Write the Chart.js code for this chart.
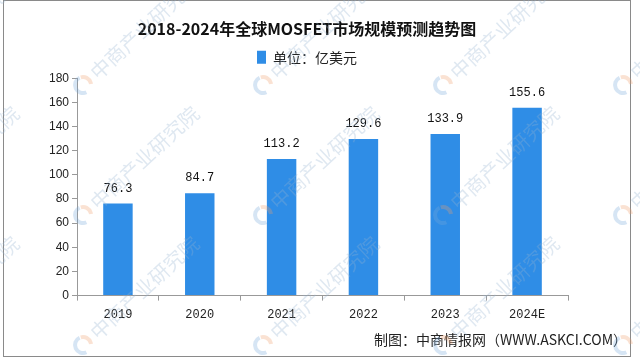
<!DOCTYPE html>
<html>
<head>
<meta charset="utf-8">
<script src="https://cdn.jsdelivr.net/npm/chart.js@4"></script>
<style>
  html, body { margin: 0; padding: 0; background: #fff; }
  #wrap { width: 640px; height: 358px; }
</style>
</head>
<body>
<div id="wrap"><canvas id="chartMosfet" width="640" height="358"></canvas></div>
<script>
// chart data
const years = ['2019', '2020', '2021', '2022', '2023', '2024E'];
const marketSize = [76.3, 84.7, 113.2, 129.6, 133.9, 155.6];
const yMax = 180;
const yStep = 20;
const titleText = '2018-2024年全球MOSFET市场规模预测趋势图';
const legendText = '单位：亿美元';
const footerText = '制图：中商情报网（WWW.ASKCI.COM）';
const watermarkText = '中商产业研究院';

const cjk = '"Noto Sans CJK SC", "Noto Sans", sans-serif';
const mono = '"Liberation Mono", "DejaVu Sans Mono", monospace';

// small gap between legend and plot area
const spacerPlugin = {
  id: 'spacer',
  beforeInit(chart) {
    Chart.layouts.addBox(chart, {
      position: 'top',
      weight: 500,
      fullSize: true,
      options: {},
      width: 0,
      height: 4,
      isHorizontal() { return true; },
      update(maxWidth) { this.width = maxWidth; this.height = 4; },
      getPadding() { return { top: 0, left: 0, right: 0, bottom: 0 }; },
      draw() {}
    });
  }
};

// frame, footer and watermark
const decorPlugin = {
  id: 'decor',
  beforeDraw(chart) {
    const c = chart.ctx;
    c.save();
    c.fillStyle = '#fff';
    c.fillRect(0, 0, chart.width, chart.height);
    c.strokeStyle = '#8a8a8a';
    c.lineWidth = 1;
    c.strokeRect(3.5, 0.5, 627, 356);
    c.restore();
  },
  afterDraw(chart) {
    const c = chart.ctx;
    c.save();
    c.font = '14px ' + cjk;
    c.fillStyle = '#222';
    c.textAlign = 'right';
    c.textBaseline = 'middle';
    c.fillText(footerText, 627, 340);

    // watermark tiles
    for (let row = -1; row < 3; row++) {
      for (let col = -1; col < 4; col++) {
        const x = 83 + col * 180;
        const y = 85 + row * 130;
        c.save();
        c.translate(x, y);
        c.rotate(-43 * Math.PI / 180);
        c.lineWidth = 4;
        c.strokeStyle = 'rgba(120,170,220,0.3)';
        c.beginPath();
        c.arc(0, 0, 8, 0.6 * Math.PI, 1.6 * Math.PI);
        c.stroke();
        c.strokeStyle = 'rgba(240,160,110,0.3)';
        c.beginPath();
        c.arc(0, 0, 8, 1.65 * Math.PI, 2.2 * Math.PI);
        c.stroke();
        c.font = '20px ' + cjk;
        c.fillStyle = 'rgba(150,180,210,0.3)';
        c.textAlign = 'left';
        c.textBaseline = 'middle';
        c.fillText(watermarkText, 14, 0);
        c.restore();
      }
    }
    c.restore();
  }
};

// value labels above bars
const valueLabels = {
  id: 'valueLabels',
  afterDatasetsDraw(chart) {
    const c = chart.ctx;
    const meta = chart.getDatasetMeta(0);
    c.save();
    c.font = '12px ' + mono;
    c.fillStyle = '#111';
    c.textAlign = 'center';
    c.textBaseline = 'bottom';
    meta.data.forEach((bar, i) => {
      c.fillText(marketSize[i].toFixed(1), bar.x, bar.y - 9);
    });
    c.restore();
  }
};

new Chart(document.getElementById('chartMosfet'), {
  type: 'bar',
  data: {
    labels: years,
    datasets: [{
      label: legendText,
      data: marketSize,
      backgroundColor: '#2f8de6',
      borderWidth: 0,
      categoryPercentage: 1,
      barPercentage: 0.36
    }]
  },
  options: {
    responsive: false,
    animation: false,
    layout: { padding: { left: 46, right: 72, top: 0, bottom: 29 } },
    plugins: {
      title: {
        display: true,
        text: titleText,
        color: '#111',
        font: { family: cjk, size: 16, weight: 'bold' },
        padding: { top: 19, bottom: 0 }
      },
      legend: {
        display: true,
        labels: {
          color: '#222',
          font: { family: cjk, size: 14 },
          boxWidth: 9,
          boxHeight: 13,
          padding: 12
        }
      },
      tooltip: { enabled: false }
    },
    scales: {
      x: {
        grid: { display: true, drawOnChartArea: false, drawTicks: true, tickLength: 5, color: '#999' },
        border: { display: true, color: '#999' },
        ticks: { color: '#222', font: { family: mono, size: 12 }, padding: 7 }
      },
      y: {
        min: 0,
        max: yMax,
        grid: { display: true, drawOnChartArea: false, drawTicks: true, tickLength: 5, color: '#999' },
        border: { display: true, color: '#999' },
        ticks: { stepSize: yStep, color: '#222', font: { family: '"Liberation Sans", Arial, sans-serif', size: 12 }, padding: 3 }
      }
    }
  },
  plugins: [spacerPlugin, decorPlugin, valueLabels]
});
</script>
</body>
</html>
